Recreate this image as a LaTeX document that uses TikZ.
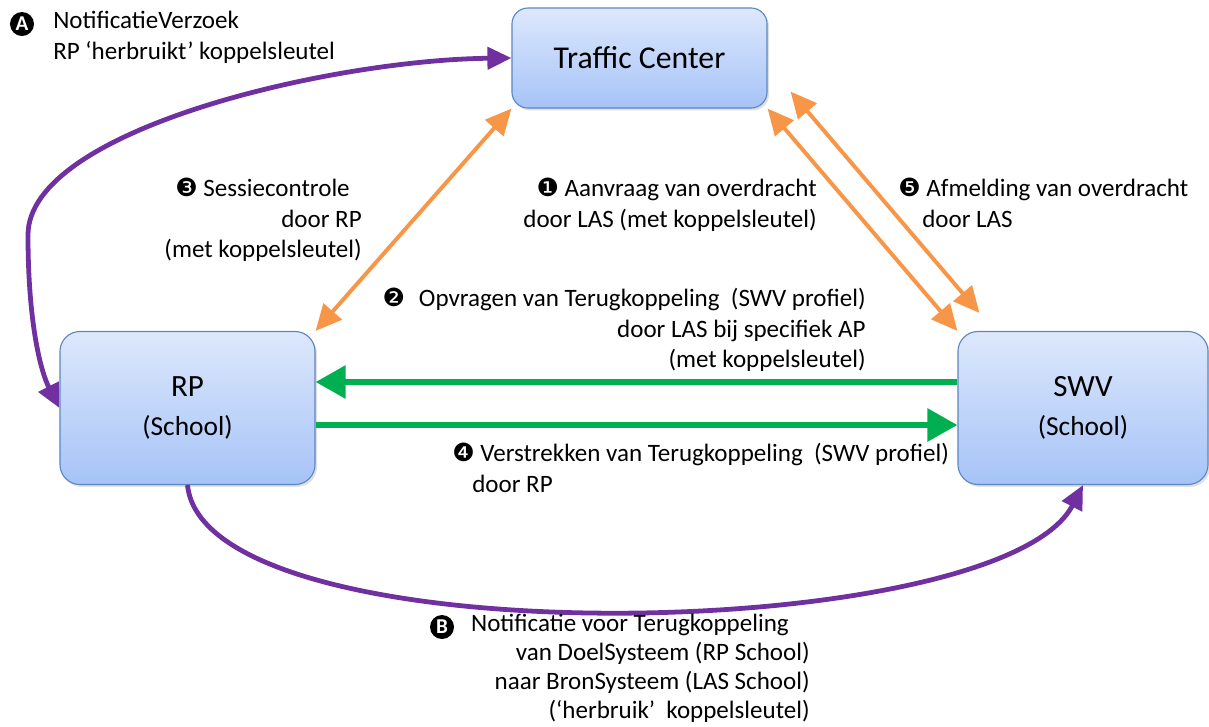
\documentclass[tikz,border=0pt]{standalone}
\usepackage{fontspec}
\setmainfont{Carlito}
\newfontfamily\dingfont{DejaVu Sans}
\usepackage{tikz}
\usetikzlibrary{arrows.meta,calc,shadows}
\definecolor{boxtop}{HTML}{DDE8FC}
\definecolor{boxbottom}{HTML}{A6C3F7}
\definecolor{boxline}{HTML}{5B87C2}
\definecolor{oranje}{HTML}{F79646}
\definecolor{groen}{HTML}{00B050}
\definecolor{paars}{HTML}{7030A0}
\tikzstyle{systeem}=[rectangle, rounded corners=0.5cm, draw=boxline, line width=0.8pt, top color=boxtop, bottom color=boxbottom, minimum width=6.375cm, minimum height=3.825cm, align=center, font=\fontsize{19.5}{28}\selectfont, drop shadow={opacity=0.25, shadow xshift=0.05cm, shadow yshift=-0.06cm}]
\tikzstyle{stap}=[inner sep=0pt, font=\fontsize{17.8}{21.5}\selectfont]
\tikzstyle{letter}=[circle, fill=black, text=white, inner sep=0pt, minimum size=0.6cm, font=\bfseries\fontsize{15}{15}\selectfont]
\tikzstyle{oranjepijl}=[draw=oranje, line width=2.8pt, >={Triangle[length=0.65cm,width=0.6cm]}, <->]
\tikzstyle{groenepijl}=[draw=groen, line width=4.2pt, >={Triangle[length=0.75cm,width=0.8cm]}, ->]
\tikzstyle{paarsepijl}=[draw=paars, line width=3.4pt, >={Triangle[length=0.6cm,width=0.55cm]}]

\begin{document}
\begin{tikzpicture}[x=0.025cm, y=-0.025cm]
	\useasboundingbox (0,0) rectangle (1209,726);
	\node[systeem, rounded corners=0.4cm, minimum height=2.5cm, font=\fontsize{22.6}{27}\selectfont] (tc) at (639.5,58) {Traffic Center};
	\node[systeem] (rp) at (187.5,408) {{\fontsize{22}{28}\selectfont RP}\\(School)};
	\node[systeem, minimum width=6.25cm] (swv) at (1083,408) {{\fontsize{22}{28}\selectfont SWV}\\(School)};
	\draw[oranjepijl] (rp.north east) -- (tc.south west);
	\draw[oranjepijl] (tc.south east) -- (swv.north west);
	\draw[oranjepijl] ($(tc.south east)+(23,-17)$) -- ($(swv.north west)+(22,-18)$);
	\draw[groenepijl] ($(swv.west)+(0,-26)$) -- ($(rp.east)+(0,-26)$);
	\draw[groenepijl] ($(rp.east)+(0,17)$) -- ($(swv.west)+(0,17)$);
	\draw[paarsepijl, <->] (rp.west) .. controls (40,370) and (28,320) .. (28,235)
		.. controls (28,130) and (330,60) .. (tc.west);
	\draw[paarsepijl, ->] (rp.south) .. controls (205,660) and (1000,645) .. (swv.south);
	\node[letter] (markA) at (22,24) {A};
	\node[stap, anchor=north west, align=left, font=\fontsize{17.8}{22}\selectfont] (tekstA) at (53,11) {NotificatieVerzoek\\RP ‘herbruikt’ koppelsleutel};
	\node[stap, anchor=north east, align=right] (stap3) at (362,178) {{\dingfont ❸} Sessiecontrole\hspace*{0.3cm}\\door RP\hspace*{0.3cm}\\(met koppelsleutel)};
	\node[stap, anchor=north east, align=right] (stap1) at (817,178) {{\dingfont ❶} Aanvraag van overdracht\\door LAS (met koppelsleutel)};
	\node[stap, anchor=north west, align=left] (stap5) at (898,178) {{\dingfont ❺} Afmelding van overdracht\\\hspace*{0.6cm}door LAS};
	\node[stap, anchor=north east, align=right] (stap2) at (866,288) {{\dingfont ❷}\hspace{0.35cm}Opvragen van Terugkoppeling\ \ (SWV profiel)\\door LAS bij specifiek AP\\(met koppelsleutel)};
	\node[stap, anchor=north west, align=left] (stap4) at (452,443) {{\dingfont ❹} Verstrekken van Terugkoppeling\ \ (SWV profiel)\\\hspace*{0.5cm}door RP};
	\node[letter] (markB) at (442,627) {B};
	\node[stap, anchor=north east, align=right, font=\fontsize{17.8}{20.6}\selectfont] (tekstB) at (810,614) {Notificatie voor Terugkoppeling\hspace*{0.525cm}\\van DoelSysteem (RP School)\\naar BronSysteem (LAS School)\\(‘herbruik’\ \ koppelsleutel)};
\end{tikzpicture}
\end{document}
